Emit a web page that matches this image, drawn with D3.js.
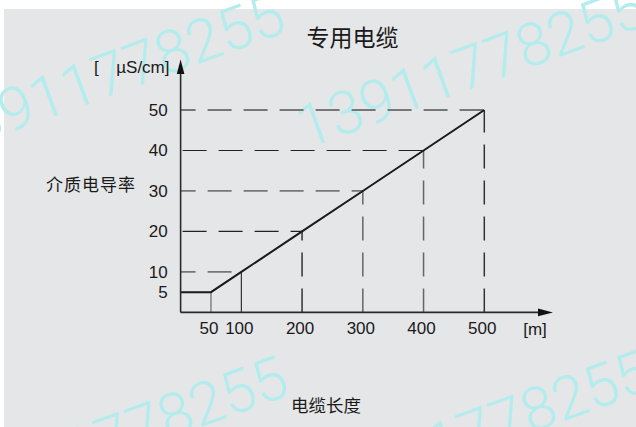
<!DOCTYPE html>
<html>
<head>
<meta charset="utf-8">
<script src="https://cdn.jsdelivr.net/npm/d3@7"></script>
<style>
  html, body { margin: 0; padding: 0; background: #ffffff; }
  svg { display: block; }
</style>
</head>
<body>
<div id="chart"></div>
<script>
// ---- data ----
const cableLength = [0, 50, 100, 200, 300, 400, 500];        // m
const conductivity = [5, 5, 10, 20, 30, 40, 50];             // µS/cm
const xTickValues = [50, 100, 200, 300, 400, 500];
const yTickValues = [5, 10, 20, 30, 40, 50];
const titleText = "专用电缆";
const yUnitText = "µS/cm]";
const yLabelText = "介质电导率";
const xUnitText = "[m]";
const xLabelText = "电缆长度";
const watermarkText = "13911778255";

// ---- layout ----
const W = 636, H = 427;
const svg = d3.select("#chart").append("svg").attr("width", W).attr("height", H);

const x = d3.scaleLinear().domain([0, 500]).range([180.6, 484.3]);
const y = d3.scaleLinear().domain([0, 50]).range([312.4, 110]);

const numFont = "'Liberation Sans', Arial, Helvetica, sans-serif";
const cjkFont = "'Noto Sans CJK SC', 'Noto Sans', sans-serif";

// background panel
svg.append("rect").attr("x", 4).attr("y", 9).attr("width", W - 4).attr("height", H - 9)
  .attr("fill", "#e5e6e8");

// watermark (under the chart)
const wm = svg.append("g").attr("fill", "#b3eced")
  .attr("font-family", "Roboto, 'Liberation Sans', sans-serif")
  .attr("font-weight", 300).attr("font-size", 60);
[[289, 31], [650, 24], [292, 394], [655, 388]].forEach(([ex, ey]) => {
  wm.append("text").attr("text-anchor", "end")
    .attr("transform", `translate(${ex},${ey}) rotate(-20)`)
    .text(watermarkText);
});

// guide lines
const pts = cableLength.map((d, i) => ({ x: d, y: conductivity[i], i }));
const guides = svg.append("g");
const colorOf = (k) => (k % 2 === 0 ? "#777777" : "#222222");
const widthOf = (k) => (k % 2 === 0 ? 1.8 : 1.2);

// horizontal dashed guides for points after the knee
pts.filter(p => p.i >= 2).forEach((p, k) => {
  const hk = (p.i) % 2 === 0 ? 0 : 1; // alternate gray/dark
  guides.append("line")
    .attr("x1", x(0)).attr("x2", x(p.x))
    .attr("y1", y(p.y)).attr("y2", y(p.y))
    .attr("stroke", colorOf(hk)).attr("stroke-width", widthOf(hk))
    .attr("stroke-dasharray", "24,12")
    .attr("stroke-dashoffset", hk === 0 ? 9 : -2);
});
// vertical guides
pts.filter(p => p.i >= 1).forEach(p => {
  const g = guides.append("line")
    .attr("x1", x(p.x)).attr("x2", x(p.x))
    .attr("y1", y(0)).attr("y2", y(p.y));
  if (p.i === 1) {
    g.attr("stroke", "#8a8a8a").attr("stroke-width", 1.6);
  } else if (p.i === 2) {
    g.attr("stroke", "#222222").attr("stroke-width", 1.1);
  } else {
    const vk = (p.i === 4 || p.i === 5) ? 0 : 1;
    g.attr("stroke", vk === 0 ? "#666666" : "#333333").attr("stroke-width", 1.5)
     .attr("stroke-dasharray", "24,12");
  }
});

// curve
svg.append("path")
  .datum(pts)
  .attr("fill", "none").attr("stroke", "#1a1a1a").attr("stroke-width", 2)
  .attr("stroke-linejoin", "miter")
  .attr("d", d3.line().x(d => x(d.x)).y(d => y(d.y)));

// axes lines with arrows
const axisColor = "#2a2a2a";
svg.append("line").attr("x1", x(0)).attr("x2", 540).attr("y1", y(0)).attr("y2", y(0))
  .attr("stroke", axisColor).attr("stroke-width", 1.6);
svg.append("path").attr("d", `M538,${y(0) - 3.8}L553,${y(0)}L538,${y(0) + 3.8}Z`).attr("fill", "#111");
svg.append("line").attr("x1", x(0)).attr("x2", x(0)).attr("y1", y(0)).attr("y2", 72)
  .attr("stroke", axisColor).attr("stroke-width", 1.6);
svg.append("path").attr("d", `M${x(0) - 3.8},74L${x(0)},59.5L${x(0) + 3.8},74Z`).attr("fill", "#111");

// tick labels via d3 axes
const xAxis = d3.axisBottom(x).tickValues(xTickValues).tickSize(0).tickPadding(9.5).tickFormat(d3.format("d"));
const gx = svg.append("g").attr("transform", `translate(0,${y(0)})`).call(xAxis);
gx.select(".domain").remove();
gx.selectAll("text").attr("font-family", numFont).attr("font-size", 17).attr("fill", "#1a1a1a")
  .attr("dx", -2.5);

const yAxis = d3.axisLeft(y).tickValues(yTickValues).tickSize(0).tickPadding(13).tickFormat(d3.format("d"));
const gy = svg.append("g").attr("transform", `translate(${x(0)},0)`).call(yAxis);
gy.select(".domain").remove();
gy.selectAll("text").attr("font-family", numFont).attr("font-size", 17).attr("fill", "#1a1a1a");

// unit labels
svg.append("text").attr("x", 94).attr("y", 73).attr("font-family", numFont).attr("font-size", 17)
  .attr("fill", "#1a1a1a").text("[");
svg.append("text").attr("x", 169.5).attr("y", 73).attr("text-anchor", "end").attr("font-family", numFont)
  .attr("font-size", 17).attr("fill", "#1a1a1a").text(yUnitText);
svg.append("text").attr("x", 535).attr("y", 335).attr("text-anchor", "middle").attr("font-family", numFont)
  .attr("font-size", 17).attr("fill", "#1a1a1a").text(xUnitText);

// title and axis titles
svg.append("text").attr("x", 352.5).attr("y", 46).attr("text-anchor", "middle").attr("font-family", cjkFont)
  .attr("font-size", 23).attr("fill", "#1a1a1a").text(titleText);
svg.append("text").attr("x", 46).attr("y", 191).attr("font-family", cjkFont)
  .attr("font-size", 17).attr("letter-spacing", 1).attr("fill", "#1a1a1a").text(yLabelText);
svg.append("text").attr("x", 326).attr("y", 411.5).attr("text-anchor", "middle").attr("font-family", cjkFont)
  .attr("font-size", 17.5).attr("fill", "#1a1a1a").text(xLabelText);
</script>
</body>
</html>
